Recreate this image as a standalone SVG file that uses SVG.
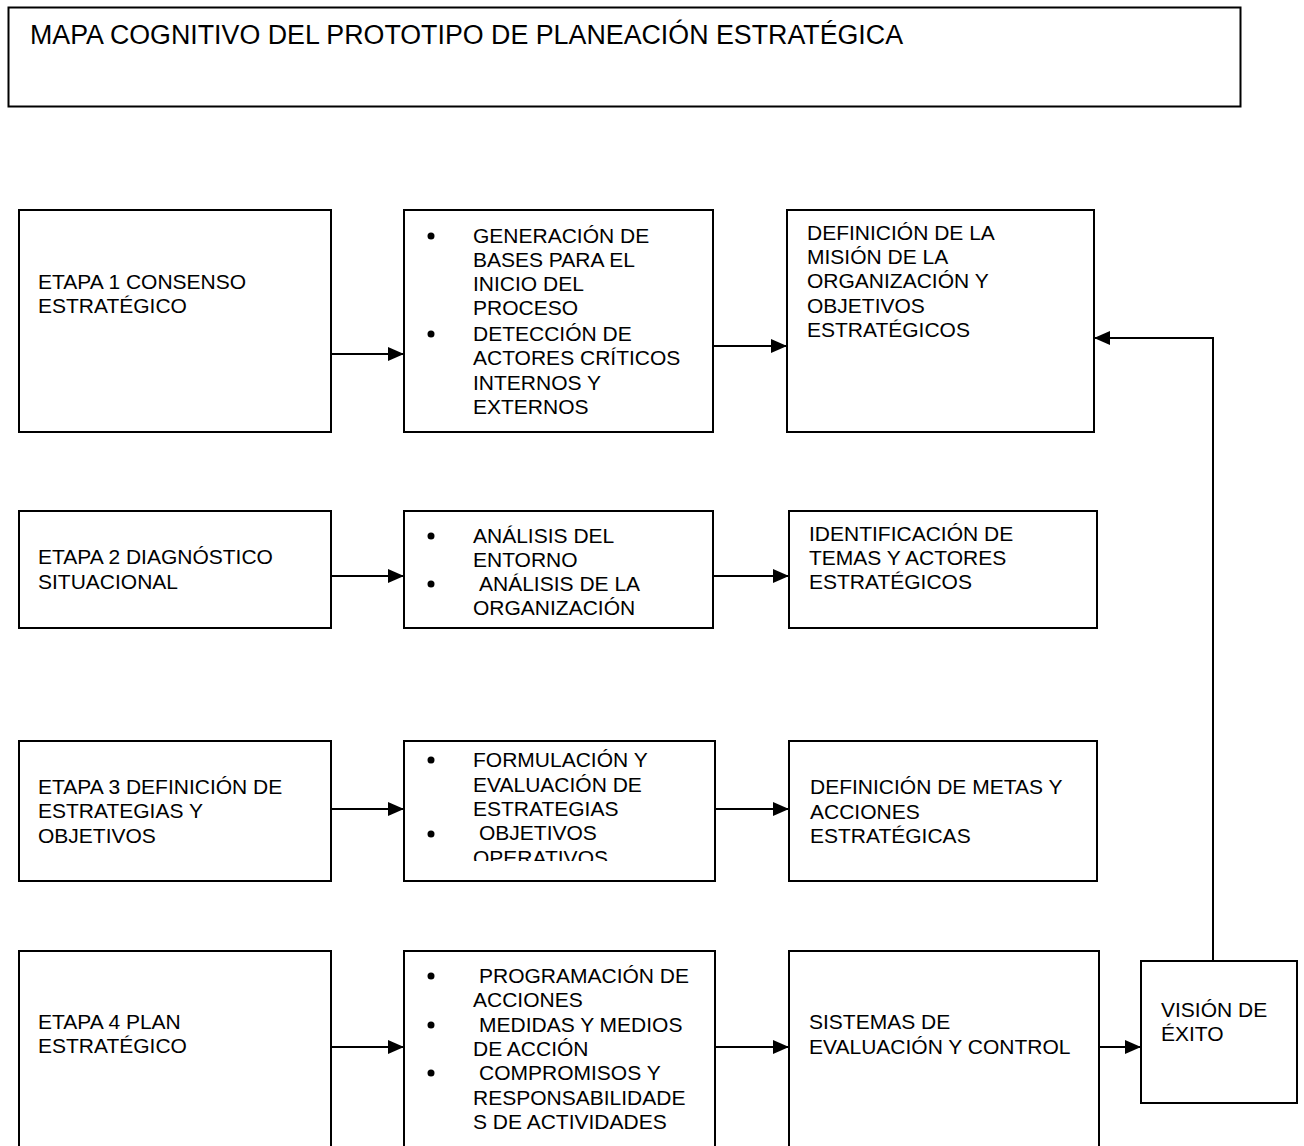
<svg xmlns="http://www.w3.org/2000/svg" width="1304" height="1146" viewBox="0 0 1304 1146">
  <style>
    .box { fill: #ffffff; stroke: #000000; stroke-width: 2; }
    .t { font-family: "Liberation Sans", Arial, sans-serif; font-size: 21px; fill: #000000; }
    .title { font-family: "Liberation Sans", Arial, sans-serif; font-size: 26.8px; fill: #000000; }
    .conn { fill: none; stroke: #000000; stroke-width: 2; }
    .dot { fill: #000000; }
  </style>
  <defs>
    <marker id="arrow" viewBox="0 0 16 14" refX="16" refY="7" markerWidth="16" markerHeight="14" markerUnits="userSpaceOnUse" orient="auto">
      <path d="M0,0 L16,7 L0,14 Z" fill="#000000"/>
    </marker>
    <clipPath id="clip-r3b">
      <rect x="404" y="741" width="311" height="120"/>
    </clipPath>
  </defs>

  <rect width="1304" height="1146" fill="#ffffff"/>

  <!-- title box -->
  <g id="title">
    <rect class="box" x="8.5" y="7.5" width="1232" height="99"/>
    <text class="title" x="30" y="44">MAPA COGNITIVO DEL PROTOTIPO DE PLANEACIÓN ESTRATÉGICA</text>
  </g>

  <!-- row 1 -->
  <g id="etapa1">
    <rect class="box" x="19" y="210" width="312" height="222"/>
    <text class="t" x="38" y="289">ETAPA 1 CONSENSO</text>
    <text class="t" x="38" y="313">ESTRATÉGICO</text>
  </g>
  <g id="etapa1-acciones">
    <rect class="box" x="404" y="210" width="309" height="222"/>
    <circle class="dot" cx="431" cy="236" r="3.5"/>
    <circle class="dot" cx="431" cy="334" r="3.5"/>
    <text class="t" x="473" y="243">GENERACIÓN DE</text>
    <text class="t" x="473" y="267">BASES PARA EL</text>
    <text class="t" x="473" y="291">INICIO DEL</text>
    <text class="t" x="473" y="315">PROCESO</text>
    <text class="t" x="473" y="341">DETECCIÓN DE</text>
    <text class="t" x="473" y="365">ACTORES CRÍTICOS</text>
    <text class="t" x="473" y="390">INTERNOS Y</text>
    <text class="t" x="473" y="414">EXTERNOS</text>
  </g>
  <g id="etapa1-resultado">
    <rect class="box" x="787" y="210" width="307" height="222"/>
    <text class="t" x="807" y="240">DEFINICIÓN DE LA</text>
    <text class="t" x="807" y="264">MISIÓN DE LA</text>
    <text class="t" x="807" y="288">ORGANIZACIÓN Y</text>
    <text class="t" x="807" y="313">OBJETIVOS</text>
    <text class="t" x="807" y="337">ESTRATÉGICOS</text>
  </g>

  <!-- row 2 -->
  <g id="etapa2">
    <rect class="box" x="19" y="511" width="312" height="117"/>
    <text class="t" x="38" y="564">ETAPA 2 DIAGNÓSTICO</text>
    <text class="t" x="38" y="589">SITUACIONAL</text>
  </g>
  <g id="etapa2-acciones">
    <rect class="box" x="404" y="511" width="309" height="117"/>
    <circle class="dot" cx="431" cy="536" r="3.5"/>
    <circle class="dot" cx="431" cy="584" r="3.5"/>
    <text class="t" x="473" y="543">ANÁLISIS DEL</text>
    <text class="t" x="473" y="567">ENTORNO</text>
    <text class="t" x="479" y="591">ANÁLISIS DE LA</text>
    <text class="t" x="473" y="615">ORGANIZACIÓN</text>
  </g>
  <g id="etapa2-resultado">
    <rect class="box" x="789" y="511" width="308" height="117"/>
    <text class="t" x="809" y="541">IDENTIFICACIÓN DE</text>
    <text class="t" x="809" y="565">TEMAS Y ACTORES</text>
    <text class="t" x="809" y="589">ESTRATÉGICOS</text>
  </g>

  <!-- row 3 -->
  <g id="etapa3">
    <rect class="box" x="19" y="741" width="312" height="140"/>
    <text class="t" x="38" y="794">ETAPA 3 DEFINICIÓN DE</text>
    <text class="t" x="38" y="818">ESTRATEGIAS Y</text>
    <text class="t" x="38" y="843">OBJETIVOS</text>
  </g>
  <g id="etapa3-acciones">
    <rect class="box" x="404" y="741" width="311" height="140"/>
    <circle class="dot" cx="431" cy="760" r="3.5"/>
    <circle class="dot" cx="431" cy="834" r="3.5"/>
    <g clip-path="url(#clip-r3b)">
      <text class="t" x="473" y="767">FORMULACIÓN Y</text>
      <text class="t" x="473" y="792">EVALUACIÓN DE</text>
      <text class="t" x="473" y="816">ESTRATEGIAS</text>
      <text class="t" x="479" y="840">OBJETIVOS</text>
      <text class="t" x="473" y="865">OPERATIVOS</text>
    </g>
  </g>
  <g id="etapa3-resultado">
    <rect class="box" x="789" y="741" width="308" height="140"/>
    <text class="t" x="810" y="794">DEFINICIÓN DE METAS Y</text>
    <text class="t" x="810" y="819">ACCIONES</text>
    <text class="t" x="810" y="843">ESTRATÉGICAS</text>
  </g>

  <!-- row 4 (boxes run past the lower edge) -->
  <g id="etapa4">
    <rect class="box" x="19" y="951" width="312" height="220"/>
    <text class="t" x="38" y="1029">ETAPA 4 PLAN</text>
    <text class="t" x="38" y="1053">ESTRATÉGICO</text>
  </g>
  <g id="etapa4-acciones">
    <rect class="box" x="404" y="951" width="311" height="220"/>
    <circle class="dot" cx="431" cy="976" r="3.5"/>
    <circle class="dot" cx="431" cy="1025" r="3.5"/>
    <circle class="dot" cx="431" cy="1073" r="3.5"/>
    <text class="t" x="479" y="983">PROGRAMACIÓN DE</text>
    <text class="t" x="473" y="1007">ACCIONES</text>
    <text class="t" x="479" y="1032">MEDIDAS Y MEDIOS</text>
    <text class="t" x="473" y="1056">DE ACCIÓN</text>
    <text class="t" x="479" y="1080">COMPROMISOS Y</text>
    <text class="t" x="473" y="1105">RESPONSABILIDADE</text>
    <text class="t" x="473" y="1129">S DE ACTIVIDADES</text>
  </g>
  <g id="etapa4-resultado">
    <rect class="box" x="789" y="951" width="310" height="220"/>
    <text class="t" x="809" y="1029">SISTEMAS DE</text>
    <text class="t" x="809" y="1054">EVALUACIÓN Y CONTROL</text>
  </g>
  <g id="vision">
    <rect class="box" x="1141" y="961" width="156" height="142"/>
    <text class="t" x="1161" y="1017">VISIÓN DE</text>
    <text class="t" x="1161" y="1041">ÉXITO</text>
  </g>

  <!-- connectors -->
  <g id="connectors">
    <line class="conn" x1="331" y1="354" x2="404" y2="354" marker-end="url(#arrow)"/>
    <line class="conn" x1="713" y1="346" x2="787" y2="346" marker-end="url(#arrow)"/>
    <line class="conn" x1="331" y1="576" x2="404" y2="576" marker-end="url(#arrow)"/>
    <line class="conn" x1="713" y1="576" x2="789" y2="576" marker-end="url(#arrow)"/>
    <line class="conn" x1="331" y1="809" x2="404" y2="809" marker-end="url(#arrow)"/>
    <line class="conn" x1="715" y1="809" x2="789" y2="809" marker-end="url(#arrow)"/>
    <line class="conn" x1="331" y1="1047" x2="404" y2="1047" marker-end="url(#arrow)"/>
    <line class="conn" x1="715" y1="1047" x2="789" y2="1047" marker-end="url(#arrow)"/>
    <line class="conn" x1="1099" y1="1047" x2="1141" y2="1047" marker-end="url(#arrow)"/>
    <polyline class="conn" points="1213,961 1213,338 1094,338" marker-end="url(#arrow)"/>
  </g>
</svg>
